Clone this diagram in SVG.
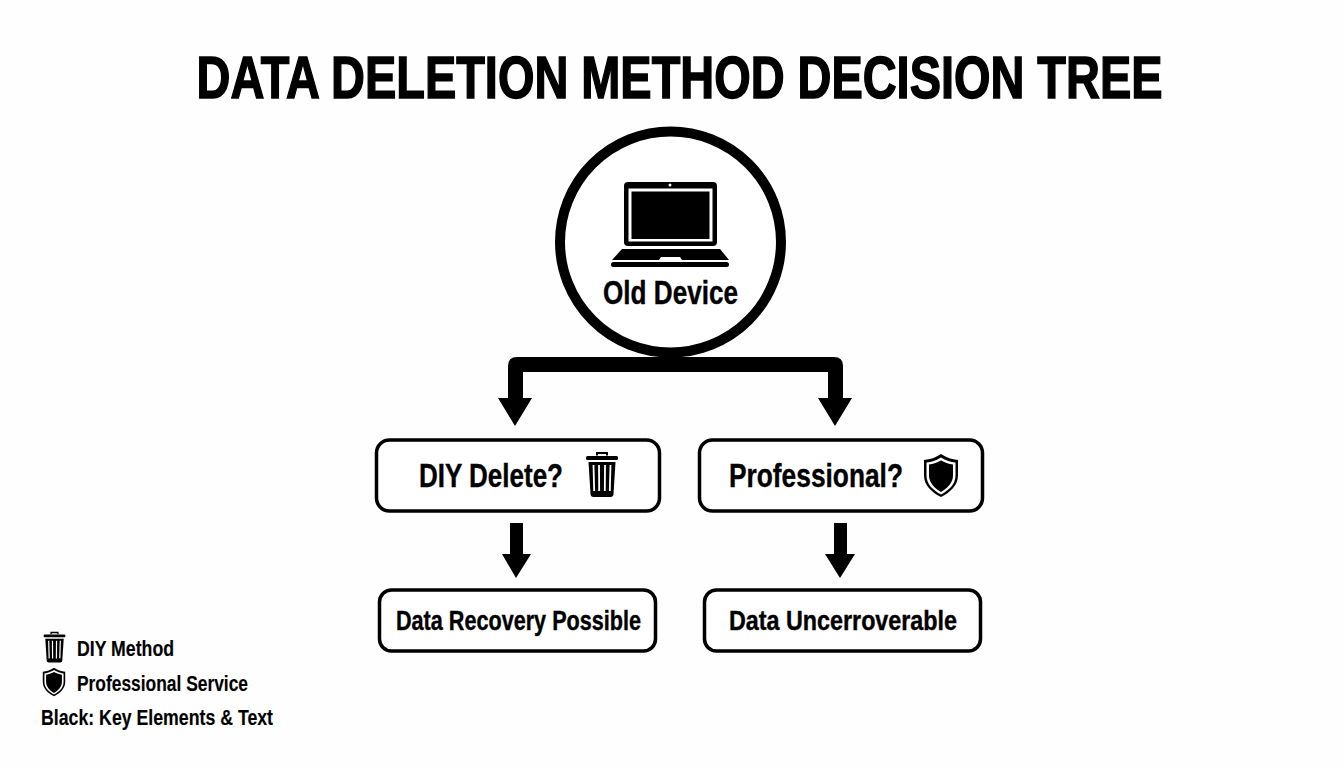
<svg xmlns="http://www.w3.org/2000/svg" width="1344" height="768" viewBox="0 0 1344 768">
<style>
text{font-family:"Liberation Sans",Arial,sans-serif;font-weight:700;fill:#000;stroke:#000;stroke-width:.4}
#title{stroke-width:1.500}
#legend text{stroke-width:.15}
.box{fill:#fff;stroke:#000;stroke-width:3.500}
.conn{fill:#000;stroke:none}
</style>
<defs>
<g id="trash"><path d="M-5 -19.500V-22H5V-19.500" fill="none" stroke="#000" stroke-width="2"/><rect x="-16" y="-19" width="32" height="4" rx="1.500" fill="#000"/><path d="M-13.500 -13H13.500L11.500 19Q11.300 22 8.500 22H-8.500Q-11.300 22 -11.500 19Z" fill="#000"/><path d="M-8.500 -10L-7.800 16M-3 -10L-2.800 16M3 -10L2.800 16M8.500 -10L7.800 16" stroke="#fff" stroke-width="1.800" fill="none"/></g>
<g id="shield"><path d="M0 -21.500C5 -18 11 -16 17 -15.500V0C17 10 9 17 0 21.500C-9 17 -17 10 -17 0V-15.500C-11 -16 -5 -18 0 -21.500Z" fill="#000"/><path d="M0 -18C5 -15 9.500 -13.500 14.500 -13V0C14.500 9 7.500 15 0 19C-7.500 15 -14.500 9 -14.500 0V-13C-9.500 -13.500 -5 -15 0 -18Z" fill="#fff"/><path d="M0 -15C4.500 -12.500 8 -11.500 12 -11V0C12 7.500 6 13 0 16.500C-6 13 -12 7.500 -12 0V-11C-8 -11.500 -4.500 -12.500 0 -15Z" fill="#000"/></g>
</defs>
<rect width="1344" height="768" fill="#fefefe"/>
<text id="title" transform="translate(196.500 98) scale(.76 1)" x="0" y="0" font-size="60" textLength="1271" lengthAdjust="spacingAndGlyphs">DATA DELETION METHOD DECISION TREE</text>
<g id="connectors">
<path class="conn" d="M508 426V366Q508 357 517 357H834Q843 357 843 366V398H852L835 426L818 398H828V372H523V398H532L515 426L498 398H508Z"/>
<path class="conn" d="M510 523H523V554H531L516 578L502 554H510Z"/>
<path class="conn" d="M834 523H847V554H855L840 578L825 554H834Z"/>
</g>
<g id="old-device">
<circle cx="670.500" cy="242" r="110.500" fill="#fff" stroke="#000" stroke-width="10"/>
<rect x="624" y="182" width="93" height="64" rx="4" fill="#000"/>
<rect x="628.500" y="188.500" width="84" height="53" fill="#fff"/>
<rect x="631.500" y="191.500" width="78" height="47.500" fill="#000"/>
<circle cx="670" cy="185" r="1.500" fill="#fff"/>
<path d="M622 249H720L729 260H612Z" fill="#000"/>
<path d="M661 257H680L682 260H659Z" fill="#fff"/>
<rect x="611" y="262" width="118" height="5" rx="2.500" fill="#000"/>
<text x="603" y="304" font-size="33" textLength="135" lengthAdjust="spacingAndGlyphs">Old Device</text>
</g>
<g id="diy-delete">
<rect class="box" x="376.500" y="440" width="283" height="71" rx="13"/>
<text x="419" y="487" font-size="34" textLength="144" lengthAdjust="spacingAndGlyphs">DIY Delete?</text>
<use href="#trash" x="602" y="475"/>
</g>
<g id="professional">
<rect class="box" x="699.500" y="440" width="283" height="71" rx="13"/>
<text x="729" y="487" font-size="34" textLength="174" lengthAdjust="spacingAndGlyphs">Professional?</text>
<use href="#shield" x="941" y="475.500"/>
</g>
<g id="data-recovery">
<rect class="box" x="379.500" y="590" width="276" height="61" rx="12"/>
<text x="396" y="630" font-size="27" textLength="245" lengthAdjust="spacingAndGlyphs">Data Recovery Possible</text>
</g>
<g id="data-unrecoverable">
<rect class="box" x="704.500" y="590" width="276" height="61" rx="12"/>
<text x="729" y="630" font-size="27" textLength="228" lengthAdjust="spacingAndGlyphs">Data Uncerroverable</text>
</g>
<g id="legend">
<use href="#trash" transform="translate(54.500 647.500) scale(.68)"/>
<text x="77" y="656" font-size="22" textLength="97" lengthAdjust="spacingAndGlyphs">DIY Method</text>
<use href="#shield" transform="translate(54 682) scale(.66)"/>
<text x="77" y="691" font-size="22" textLength="171" lengthAdjust="spacingAndGlyphs">Professional Service</text>
<text x="41" y="725" font-size="22" textLength="232" lengthAdjust="spacingAndGlyphs">Black: Key Elements &amp; Text</text>
</g>
</svg>
